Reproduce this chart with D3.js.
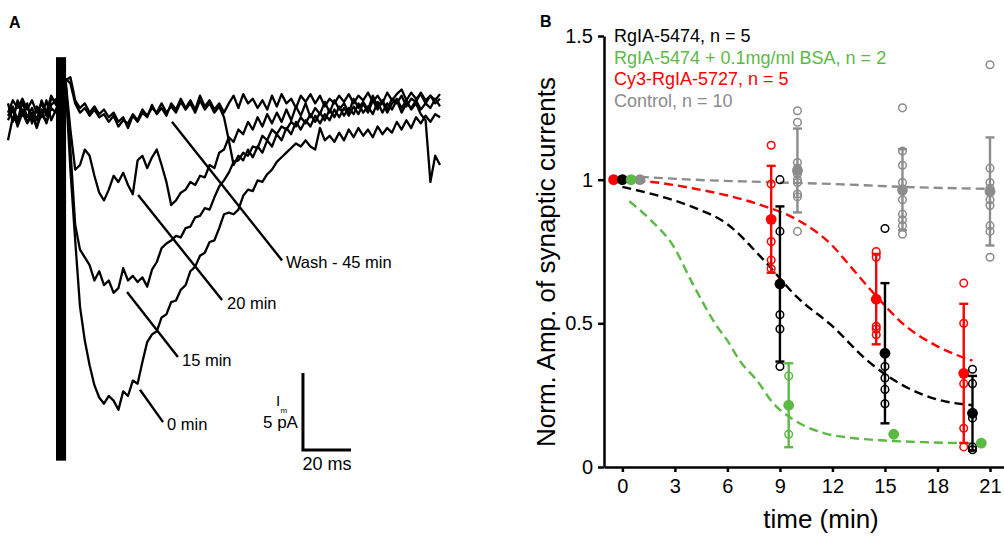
<!DOCTYPE html>
<html><head><meta charset="utf-8">
<script src="https://cdn.jsdelivr.net/npm/d3@7"></script>
<style>
body{margin:0;background:#fff}
svg{display:block;font-family:"Liberation Sans",Arial,Helvetica,sans-serif}
</style>
</head><body>
<svg id="chart" width="1004" height="536"></svg>
<script>
// ================= PANEL A : synaptic current traces =================
// currents in pA, sampled every 2 ms starting at t = 0 ms
const sampleMs = 2;
const traceWash = [
 -0.3,0.5,0,0.6,-0.1,0.5,-0.3,0.3,-0.5,0.6,
 0.5,1.2,1.8,2.0,0.5,0,0.3,-0.3,0.1,-0.4,
 -0.1,-0.6,-0.3,-0.9,-0.6,-1.3,-0.5,-0.9,-0.3,-0.6,
 0.2,-0.4,0,-0.5,0.3,-0.1,0.6,0,0.5,-0.1,
 0.8,0.1,0.5,-0.1,0.3,-0.3,0.3,0.8,0,0.9,
 0.3,0.6,0,0.5,-0.1,0.8,0.1,0.9,0.3,0.6,
 0,0.8,0.4,0.9,0.3,0.8,0.1,0.6,0.3,0.8,
 0.4,0.9,0.3,0.8,0.5,1.0,0.4,0.8,0.3,1.0,
 0.5,0.9,1.2,0.5,1.0,0.6,0.9,0.3,0.8,0.5,
 0.9];
const traceOther = [
 -2.1,-0.6,-1.0,-0.1,-0.9,-0.3,-1.2,-0.4,-0.9,0.2,
 0.5,1.2,1.9,1.6,0.3,-0.3,0,-0.5,-0.1,-0.6,
 -0.4,-0.9,-0.5,-1.2,-0.8,-1.0,-0.4,-0.8,-0.1,-0.5,
 0,-0.3,0.3,-0.3,0.1,-0.3,0.4,-0.1,0.3,-0.3,
 0.5,-0.1,0.3,-0.3,0.1,-0.6,-2.1,-3.7,-3.1,-3.4,
 -2.7,-3.2,-2.5,-2.9,-2.1,-2.5,-1.7,-2.1,-1.3,-1.7,
 -0.9,-1.4,-0.8,-1.2,-0.5,-1.0,-0.4,-0.8,-0.1,-0.6,
 0,-0.5,0.1,-0.4,0.3,-0.3,0.5,-0.1,0.4,-0.3,
 0.3,0.6,0,0.5,-0.1,0.3,-0.4,-0.8,-4.8,-3.1,
 -3.7];
const trace20min = [
 0.3,-0.9,0.5,-0.5,0.3,-1.0,0.1,-0.6,0.5,-0.8,
 -0.1,0.8,1.8,-1.4,-4.0,-3.7,-2.7,-3.1,-4.4,-5.5,
 -6.0,-5.3,-4.4,-4.8,-4.2,-5.0,-5.6,-3.4,-3.1,-3.9,
 -3.2,-2.7,-3.7,-4.8,-6.3,-6.0,-5.5,-5.3,-4.8,-5.0,
 -4.4,-4.5,-3.7,-3.9,-2.9,-2.7,-1.9,-2.2,-1.4,-1.7,
 -0.9,-1.4,-0.6,-1.2,-0.4,-1.0,-0.3,-0.9,-0.1,-0.8,
 0.1,-0.5,0.3,-0.6,0,-0.4,0.4,-0.3,0.5,-0.1,
 0.3,-0.3,0.6,0,0.4,-0.1,0.8,0.1,0.5,-0.1,
 0.6,0.3,0.8,0.1,0.6,0.4,1.0,0.5,0.8,0.3,
 0.6];
const trace15min = [
 -0.5,0.1,-0.8,0.4,-0.6,0,-0.8,0.5,-0.3,0.8,
 0.2,1.0,1.7,-2.7,-7.6,-9.2,-9.7,-10.2,-11.2,-10.6,
 -11.5,-11.2,-12.0,-11.7,-10.4,-11.2,-10.9,-11.3,-11.0,-11.6,
 -10.5,-10.0,-9.1,-8.8,-8.6,-8.3,-8.4,-7.8,-7.7,-7.1,
 -7.0,-6.5,-6.6,-5.8,-5.1,-4.7,-4.2,-3.5,-3.4,-2.9,
 -3.1,-2.5,-2.6,-1.8,-2.1,-1.4,-1.7,-1.2,-1.4,-0.9,
 -1.2,-0.6,-1.0,-0.4,-0.9,-0.3,-0.8,-0.1,-0.6,0.1,
 -0.5,0,-0.4,0.3,-0.3,0.1,-0.4,0.4,-0.3,0.3,
 -0.1,0.5,-0.3,0.3,0,0.5,-0.1,0.3,0,0.6,
 0.1];
const trace0min = [
 -0.8,-0.1,-1.2,-0.3,-1.0,-0.4,-1.3,-0.1,-1.0,0,
 -0.3,0.8,1.6,-4.0,-8.6,-12.9,-15.1,-16.7,-18.0,-18.8,
 -19.2,-18.7,-19.0,-19.6,-18.4,-18.7,-17.7,-17.9,-16.5,-15.2,
 -14.7,-14.5,-13.6,-13.4,-12.6,-12.5,-11.8,-11.5,-10.6,-10.3,
 -9.6,-9.4,-8.7,-8.6,-7.8,-6.9,-6.8,-6.9,-6.6,-5.7,
 -5.3,-5.4,-4.7,-4.8,-4.3,-4.0,-3.5,-3.2,-2.9,-2.6,
 -2.3,-2.5,-2.1,-2.5,-2.7,-1.3,-2.1,-1.8,-2.2,-1.6,
 -2.1,-1.4,-1.9,-1.3,-1.8,-1.4,-1.9,-1.2,-1.7,-1.3,
 -1.6,-0.9,-1.4,-0.8,-1.3,-0.6,-1.0,-0.5,-0.9,-0.4,
 -0.6];
// stimulus artifact (ms, pA)
const artifactMs = [20, 24.2];
const artifactPA = [3.3, -22.9];
// trace labels: leader line start/end (ms, pA) and text anchor (ms, pA)
const traceLabels = ["Wash - 45 min", "20 min", "15 min", "0 min"];
const labelLineMs = [[68.3,114.2],[54.2,89.2],[49.6,70.8],[55,64.6]];
const labelLinePA = [[-0.9,-9.9],[-5.65,-12.47],[-11.95,-16.17],[-18.3,-20.4]];
const labelTextMs = [115.8, 91.25, 72.5, 66.25];
const labelTextPA = [-10.4, -13.05, -16.75, -20.9];
// scale bar
const scaleBarMs = [122.9, 142.9];   // 20 ms
const scaleBarPA = [-22.2, -17.2];   // 5 pA

// ================= PANEL B : normalised amplitudes =================
const legendLabels = ["RgIA-5474, n = 5", "RgIA-5474 + 0.1mg/ml BSA, n = 2", "Cy3-RgIA-5727, n = 5", "Control, n = 10"];
const seriesColors = ["#000000", "#5cb946", "#ff0000", "#8c8c8c"];
const xTickValues = [0, 3, 6, 9, 12, 15, 18, 21];
const yTickValues = [0, 0.5, 1, 1.5];

const rgiaTime = [0, 9, 15, 20];
const rgiaMean = [1, 0.637, 0.396, 0.187];
const rgiaSD = [0, 0.27, 0.244, 0.13];
const rgiaCells = [[], [1.0,0.82,0.53,0.48,0.35], [0.83,0.35,0.31,0.27,0.22], [0.34,0.29,0.17,0.07,0.06]];
const rgiaFitTime = [0,2,4,6,8,10,12,14,16,18,20];
const rgiaFitValue = [0.975,0.945,0.905,0.845,0.725,0.59,0.49,0.37,0.285,0.235,0.215];

const bsaTime = [0.5, 9.5, 15.5, 20.5];
const bsaMean = [1, 0.215, 0.114, 0.083];
const bsaSD = [0, 0.146, 0, 0];
const bsaCells = [[], [0.317, 0.114], [], []];
const bsaFitTime = [0.4,1.6,2.9,4,5.4,6,6.7,7.7,8.6,9.8,11.5,13,15,17,20];
const bsaFitValue = [0.925,0.86,0.77,0.64,0.49,0.44,0.37,0.3,0.223,0.164,0.118,0.102,0.092,0.087,0.082];

const cy3Time = [-0.5, 8.5, 14.5, 19.5];
const cy3Mean = [1, 0.862, 0.584, 0.326];
const cy3SD = [0, 0.186, 0.157, 0.242];
const cy3Cells = [[], [1.12,0.985,0.785,0.72,0.69], [0.75,0.73,0.49,0.48,0.46], [0.64,0.50,0.29,0.135,0.07]];
const cy3FitTime = [0,2,4,6,8,10,12,13,14.5,16,18,20];
const cy3FitValue = [1.0,0.99,0.97,0.945,0.91,0.86,0.77,0.70,0.595,0.5,0.42,0.37];

const ctrlTime = [1, 10, 16, 21];
const ctrlMean = [1, 1.032, 0.965, 0.959];
const ctrlSD = [0, 0.146, 0.141, 0.188];
const ctrlCells = [[], [1.24,1.20,1.06,1.04,1.02,1.0,0.99,0.95,0.94,0.82], [1.25,1.10,1.05,0.99,0.96,0.93,0.88,0.86,0.84,0.81], [1.40,1.04,0.99,0.97,0.96,0.93,0.91,0.84,0.82,0.73]];
const ctrlFitTime = [1,4,8,12,16,21];
const ctrlFitValue = [1.01,1.0,0.992,0.985,0.975,0.968];

// ====================================================================
const svg = d3.select("#chart");

// ---------- Panel A ----------
const xA = d3.scaleLinear().domain([0, 180]).range([8, 440]);
const yA = d3.scaleLinear().domain([0, -20]).range([108, 416]);
const gA = svg.append("g");

gA.append("text").attr("x", 9).attr("y", 28).attr("font-size", 16).attr("font-weight", "bold").text("A");

const traceLine = d3.line().x((d, i) => xA(i * sampleMs)).y(d => yA(d));
[traceWash, traceOther, trace20min, trace15min, trace0min].forEach(tr => {
  gA.append("path").attr("d", traceLine(tr)).attr("fill", "none")
    .attr("stroke", "#000").attr("stroke-width", 2.3).attr("stroke-linejoin", "round");
});
gA.append("rect")
  .attr("x", xA(artifactMs[0])).attr("width", xA(artifactMs[1]) - xA(artifactMs[0]))
  .attr("y", yA(artifactPA[0])).attr("height", yA(artifactPA[1]) - yA(artifactPA[0]))
  .attr("fill", "#000");

traceLabels.forEach((lab, i) => {
  gA.append("line")
    .attr("x1", xA(labelLineMs[i][0])).attr("y1", yA(labelLinePA[i][0]))
    .attr("x2", xA(labelLineMs[i][1])).attr("y2", yA(labelLinePA[i][1]))
    .attr("stroke", "#000").attr("stroke-width", 2.4);
  gA.append("text").attr("x", xA(labelTextMs[i])).attr("y", yA(labelTextPA[i]))
    .attr("font-size", 16.5).text(lab);
});
// scale bar
gA.append("path")
  .attr("d", `M${xA(scaleBarMs[0])},${yA(scaleBarPA[1])}L${xA(scaleBarMs[0])},${yA(scaleBarPA[0])}L${xA(scaleBarMs[1])},${yA(scaleBarPA[0])}`)
  .attr("fill", "none").attr("stroke", "#000").attr("stroke-width", 3);
gA.append("text").attr("x", xA(scaleBarMs[0]) - 5).attr("y", yA(-20.8)).attr("text-anchor", "end").attr("font-size", 17).text("5 pA");
gA.append("text").attr("x", xA(scaleBarMs[0]) - 27).attr("y", yA(-19.35)).attr("font-size", 15).text("I");
gA.append("text").attr("x", xA(scaleBarMs[0]) - 22.5).attr("y", yA(-19.8)).attr("font-size", 8).text("m");
gA.append("text").attr("x", (xA(scaleBarMs[0]) + xA(scaleBarMs[1])) / 2).attr("y", yA(-23.5))
  .attr("text-anchor", "middle").attr("font-size", 18).text("20 ms");

// ---------- Panel B ----------
const xB = d3.scaleLinear().domain([-1.05, 21.8]).range([604, 1004]);
const yB = d3.scaleLinear().domain([0, 1.5]).range([467, 36]);
const gB = svg.append("g");

gB.append("text").attr("x", 540).attr("y", 27).attr("font-size", 16).attr("font-weight", "bold").text("B");

// curves
const fitLine = d3.line().x(d => xB(d[0])).y(d => yB(d[1])).curve(d3.curveMonotoneX);
const fits = [
  [ctrlFitTime, ctrlFitValue, seriesColors[3]],
  [cy3FitTime, cy3FitValue, seriesColors[2]],
  [rgiaFitTime, rgiaFitValue, seriesColors[0]],
  [bsaFitTime, bsaFitValue, seriesColors[1]]
];
fits.forEach(([ts, vs, col]) => {
  gB.append("path").attr("d", fitLine(ts.map((t, i) => [t, vs[i]])))
    .attr("fill", "none").attr("stroke", col).attr("stroke-width", 2.4)
    .attr("stroke-dasharray", "9,5");
});

function drawSeries(times, means, sds, cells, col) {
  const g = gB.append("g");
  times.forEach((t, i) => {
    const x = xB(t);
    if (sds[i] > 0) {
      const y1 = yB(means[i] + sds[i]), y2 = yB(means[i] - sds[i]);
      g.append("line").attr("x1", x).attr("x2", x).attr("y1", y1).attr("y2", y2)
        .attr("stroke", col).attr("stroke-width", 2.4);
      [y1, y2].forEach(yy => g.append("line").attr("x1", x - 4.5).attr("x2", x + 4.5)
        .attr("y1", yy).attr("y2", yy).attr("stroke", col).attr("stroke-width", 2.4));
    }
    cells[i].forEach(v => {
      g.append("circle").attr("cx", x).attr("cy", yB(v)).attr("r", 3.8)
        .attr("fill", "none").attr("stroke", col).attr("stroke-width", 1.5);
    });
    g.append("circle").attr("cx", x).attr("cy", yB(means[i])).attr("r", 5.4).attr("fill", col);
  });
}
drawSeries(ctrlTime, ctrlMean, ctrlSD, ctrlCells, seriesColors[3]);
drawSeries(cy3Time, cy3Mean, cy3SD, cy3Cells, seriesColors[2]);
drawSeries(rgiaTime, rgiaMean, rgiaSD, rgiaCells, seriesColors[0]);
drawSeries(bsaTime, bsaMean, bsaSD, bsaCells, seriesColors[1]);

// axes
const yAxis = gB.append("g").attr("transform", `translate(${xB(-1.05)},0)`)
  .call(d3.axisLeft(yB).tickValues(yTickValues).tickFormat(d => String(d)).tickSize(6).tickSizeOuter(0).tickPadding(5));
const xAxis = gB.append("g").attr("transform", `translate(0,${yB(0)})`)
  .call(d3.axisBottom(xB).tickValues(xTickValues).tickFormat(d => String(d)).tickSize(5).tickSizeOuter(0).tickPadding(7));
[yAxis, xAxis].forEach(ax => {
  ax.attr("font-family", null).attr("font-size", null);
  ax.selectAll("path,line").attr("stroke", "#000").attr("stroke-width", 2.5);
  ax.selectAll("text").attr("font-size", 20).attr("fill", "#000");
});

gB.append("text").attr("transform", `translate(555,262) rotate(-90)`).attr("text-anchor", "middle")
  .attr("font-size", 26).text("Norm. Amp. of synaptic currents");
gB.append("text").attr("x", 821).attr("y", 528).attr("text-anchor", "middle")
  .attr("font-size", 26).text("time (min)");

// legend
legendLabels.forEach((lab, i) => {
  gB.append("text").attr("x", 614).attr("y", 42 + i * 21.5).attr("font-size", 18)
    .attr("fill", seriesColors[i]).text(lab);
});
</script>
</body></html>
